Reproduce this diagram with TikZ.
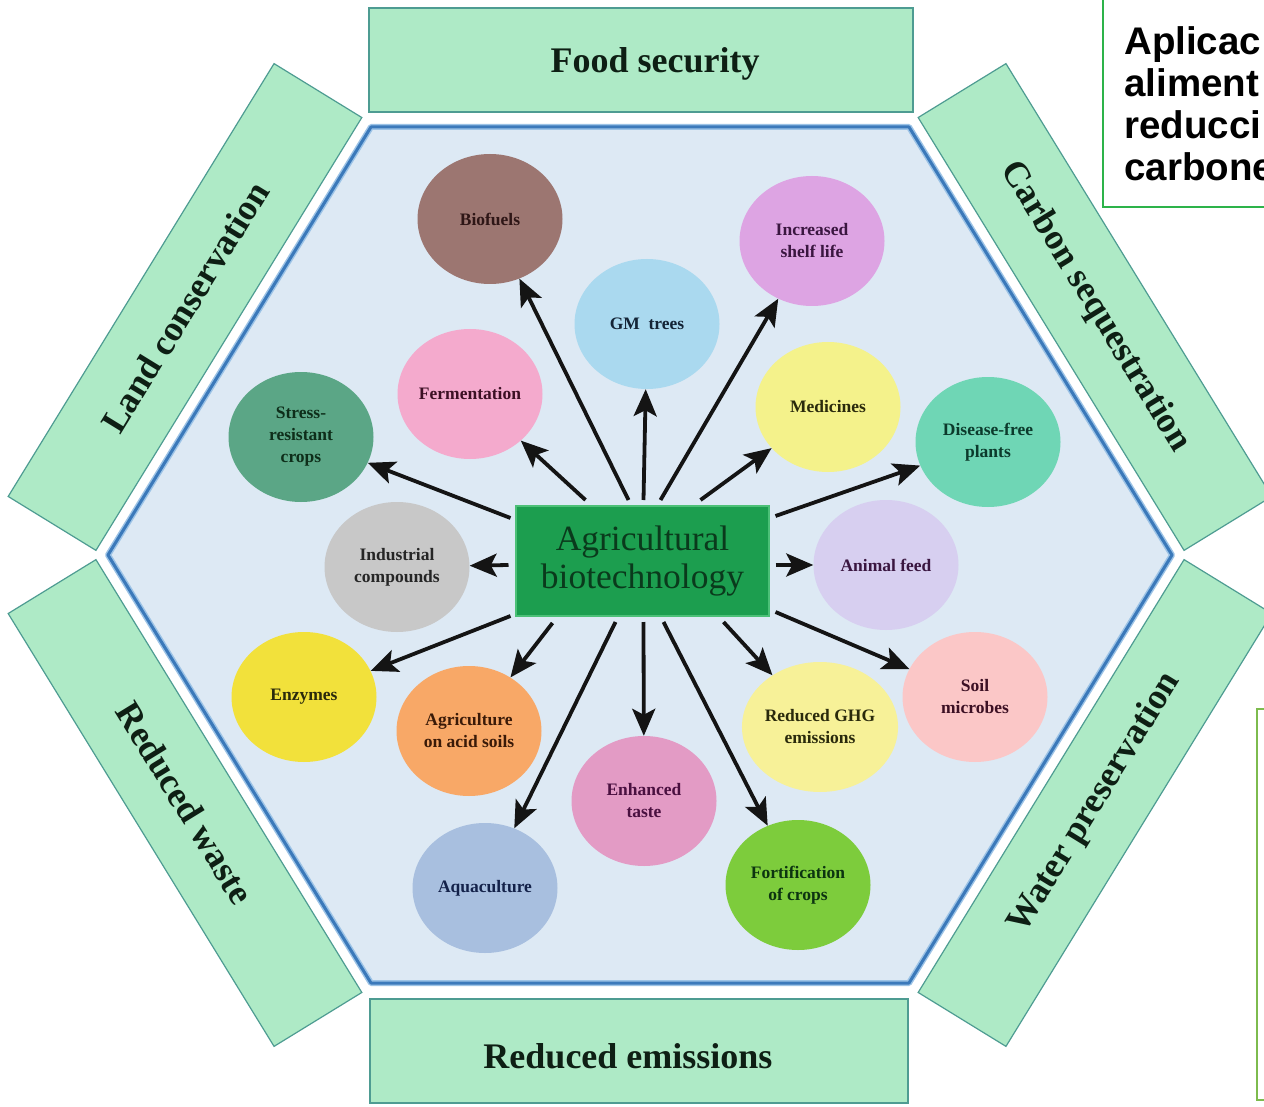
\documentclass[tikz,border=0pt]{standalone}
\usepackage{fontspec}
\setmainfont{Liberation Serif}
\newfontfamily\sansfam{Liberation Sans}
\usetikzlibrary{shapes.geometric,arrows.meta,calc}

% palette
\definecolor{bandfill}{HTML}{AEEAC6}
\definecolor{bandline}{HTML}{4E9C92}
\definecolor{bandtext}{HTML}{0E1F14}
\definecolor{hexfill}{HTML}{DDE9F4}
\definecolor{hexline}{HTML}{3B79BA}
\definecolor{hexglow}{HTML}{9CC3E6}
\definecolor{abfill}{HTML}{1C9E4F}
\definecolor{abline}{HTML}{4CC077}
\definecolor{abtext}{HTML}{0A3A1C}
\definecolor{notegreen}{HTML}{2DB34A}
\definecolor{notelime}{HTML}{7DBB4D}
% bubble fills
\definecolor{cBio}{HTML}{9C7671}
\definecolor{cShelf}{HTML}{DDA4E3}
\definecolor{cGM}{HTML}{AAD9EF}
\definecolor{cFerm}{HTML}{F4AACD}
\definecolor{cMed}{HTML}{F4F28B}
\definecolor{cStress}{HTML}{5BA686}
\definecolor{cDis}{HTML}{6FD6B5}
\definecolor{cInd}{HTML}{C8C8C8}
\definecolor{cAnim}{HTML}{D7CFF0}
\definecolor{cEnz}{HTML}{F2E13B}
\definecolor{cSoil}{HTML}{FBC7C7}
\definecolor{cAcid}{HTML}{F8A867}
\definecolor{cGHG}{HTML}{F7F198}
\definecolor{cTaste}{HTML}{E39BC5}
\definecolor{cAqua}{HTML}{A8BFDF}
\definecolor{cFort}{HTML}{7DCC3C}
% bubble label inks
\definecolor{tBrown}{HTML}{2E1616}
\definecolor{tPurple}{HTML}{3A1640}
\definecolor{tNavy}{HTML}{142436}
\definecolor{tWine}{HTML}{3C1024}
\definecolor{tOlive}{HTML}{2A2A0C}
\definecolor{tGreen}{HTML}{0E2E1A}
\definecolor{tTeal}{HTML}{0C3A2C}
\definecolor{tGrey}{HTML}{262626}
\definecolor{tRust}{HTML}{3A1A08}
\definecolor{tPlum}{HTML}{4A1040}
\definecolor{tBlue}{HTML}{14224A}
\definecolor{tLeaf}{HTML}{0C3410}

\begin{document}
\begin{tikzpicture}[x=1pt,y=-1pt,
  band/.style={draw=bandline, fill=bandfill, line width=1.2pt, inner sep=0pt,
    font=\bfseries\fontsize{36}{40}\selectfont, text=bandtext},
  bandlabel/.style={font=\bfseries\fontsize{36}{40}\selectfont, text=bandtext, inner sep=0pt},
  bubble/.style={ellipse, minimum width=145pt, minimum height=130pt, inner sep=0pt,
    align=center, font=\bfseries\fontsize{17.5}{22}\selectfont},
  arr/.style={line width=3.8pt, draw=black!92,
    -{Stealth[length=27pt,width=23pt,inset=6pt]}},
]
\useasboundingbox (0,0) rectangle (1264,1107);
\fill[white] (0,0) rectangle (1264,1107);

% central hexagon with a soft outer rim
\draw[fill=hexfill, draw=hexglow, line width=6pt, line join=round]
  (371,127) -- (909,127) -- (1172,555) -- (909,983) -- (371,983) -- (108,555) -- cycle;
\draw[draw=hexline, line width=3pt, line join=round]
  (371,127) -- (909,127) -- (1172,555) -- (909,983) -- (371,983) -- (108,555) -- cycle;

% outer bands along the six sides
\node[band, minimum width=544pt, minimum height=104pt] (food) at (641,60) {};
\node[bandlabel] (foodtxt) at (655,64) {Food security};
\node[band, minimum width=538pt, minimum height=104pt] (emis) at (639,1051) {};
\node[bandlabel] (emistxt) at (628,1056) {Reduced emissions};
\node[band, rotate=58.44, minimum width=508pt, minimum height=103pt] (land) at (185,307) {Land conservation};
\node[band, rotate=-58.44, minimum width=508pt, minimum height=103pt] (carb) at (1095,307) {Carbon sequestration};
\node[band, rotate=-58.44, minimum width=508pt, minimum height=103pt] (waste) at (185,803) {Reduced waste};
\node[band, rotate=58.44, minimum width=508pt, minimum height=103pt] (water) at (1095,803) {Water preservation};

% centre box
\node[draw=abline, fill=abfill, line width=2pt, minimum width=253pt, minimum height=110pt,
  inner sep=0pt, align=center, text=abtext, font=\fontsize{35.5}{38}\selectfont]
  (ab) at (642.5,561) {Agricultural\\biotechnology};

% application bubbles
\node[bubble, fill=cBio, text=tBrown] (bio) at (490,219) {Biofuels};
\node[bubble, fill=cShelf, text=tPurple] (shelf) at (812,241) {Increased\\shelf life};
\node[bubble, fill=cGM, text=tNavy] (gm) at (647,324) {GM\ \ trees};
\node[bubble, fill=cFerm, text=tWine] (ferm) at (470,394) {Fermentation};
\node[bubble, fill=cMed, text=tOlive] (med) at (828,407) {Medicines};
\node[bubble, fill=cStress, text=tGreen] (stress) at (301,437) {Stress-\\resistant\\crops};
\node[bubble, fill=cDis, text=tTeal] (dis) at (988,442) {Disease-free\\plants};
\node[bubble, fill=cInd, text=tGrey] (ind) at (397,567) {Industrial\\compounds};
\node[bubble, fill=cAnim, text=tPurple] (anim) at (886,565) {Animal feed};
\node[bubble, fill=cEnz, text=tOlive] (enz) at (304,697) {Enzymes};
\node[bubble, fill=cSoil, text=tWine] (soil) at (975,697) {Soil\\microbes};
\node[bubble, fill=cAcid, text=tRust] (acid) at (469,731) {Agriculture\\on acid soils};
\node[bubble, fill=cGHG, text=tOlive] (ghg) at (820,727) {Reduced GHG\\emissions};
\node[bubble, fill=cTaste, text=tPlum] (taste) at (644,801) {Enhanced\\taste};
\node[bubble, fill=cAqua, text=tBlue] (aqua) at (485,888) {Aquaculture};
\node[bubble, fill=cFort, text=tLeaf] (fort) at (798,885) {Fortification\\of crops};

% arrows out of the centre box
\draw[arr] ($(ab)+(-14,-61)$) -- (bio);
\draw[arr] ($(ab)+(1,-61)$) -- (gm);
\draw[arr] ($(ab)+(18,-61)$) -- (shelf);
\draw[arr] ($(ab)+(-57,-61)$) -- (ferm);
\draw[arr] ($(ab)+(58,-61)$) -- (med);
\draw[arr] ($(ab)+(-132,-43)$) -- (stress);
\draw[arr] ($(ab)+(133,-45)$) -- (dis);
\draw[arr] ($(ab)+(-134,4)$) -- (ind);
\draw[arr] ($(ab)+(133,4)$) -- (anim);
\draw[arr] ($(ab)+(-132,55)$) -- (enz);
\draw[arr] ($(ab)+(133,51)$) -- (soil);
\draw[arr] ($(ab)+(-90,62)$) -- (acid);
\draw[arr] ($(ab)+(81,61)$) -- (ghg);
\draw[arr] ($(ab)+(1,61)$) -- (taste);
\draw[arr] ($(ab)+(-27,61)$) -- (aqua);
\draw[arr] ($(ab)+(21,61)$) -- (fort);

% side notes at the right edge
\draw[draw=notegreen, fill=white, line width=2pt] (1103,-10) rectangle (1300,207);
\node[anchor=north west, inner sep=0pt, align=left,
  font=\sansfam\bfseries\fontsize{38.5}{42}\selectfont] (note) at (1124,26)
  {Aplicac\\aliment\\reducci\\carbone};
\draw[draw=notelime, fill=white, line width=2pt] (1257,709) rectangle (1300,1100);
\end{tikzpicture}
\end{document}
